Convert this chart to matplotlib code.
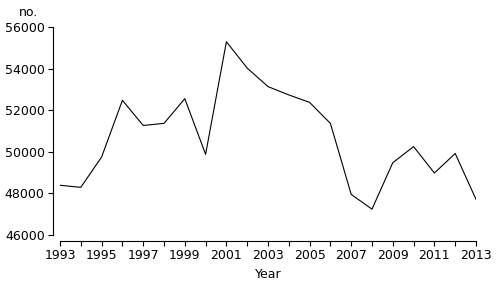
import numpy as np
import matplotlib
matplotlib.use("Agg")
import matplotlib.pyplot as plt

years = np.arange(1993, 2014)
values = [48380, 48280, 49740, 52470, 51260, 51360, 52550, 49870, 55290, 54020,
          53130, 52730, 52370, 51360, 47940, 47230, 49470, 50240, 48970, 49910, 47700]
ytick_vals = [46000, 48000, 50000, 52000, 54000, 56000]

plt.rcParams['font.family'] = ['DejaVu Sans']
plt.rcParams['font.size'] = 9

fig = plt.figure(figsize=(4.96, 2.84), dpi=100)
ax = fig.add_axes([60/496, 1 - 234.7/284, 416/496, (234.7 - 27)/284])

ax.plot(years, values, color='black', linewidth=0.8)

ax.set_xlim(1993, 2013)
ax.set_ylim(46000, 56000)
ax.set_yticks(ytick_vals)
ax.set_yticklabels([str(v) for v in ytick_vals])
ax.set_xticks(years)
ax.set_xticklabels([str(y) if (y - 1993) % 2 == 0 else '' for y in years])

for s in ['top', 'right']:
    ax.spines[s].set_visible(False)
ax.spines['left'].set_position(('outward', 5))
ax.spines['bottom'].set_position(('outward', 4.5))
ax.spines['left'].set_linewidth(0.8)
ax.spines['bottom'].set_linewidth(0.8)
ax.tick_params(length=3.5, width=0.8, pad=2.5, colors='black')

ax.set_xlabel('Year', labelpad=4)
fig.text(28/496, 1 - 12/284, 'no.', ha='center', va='center')

fig.savefig('out.png', dpi=100)
